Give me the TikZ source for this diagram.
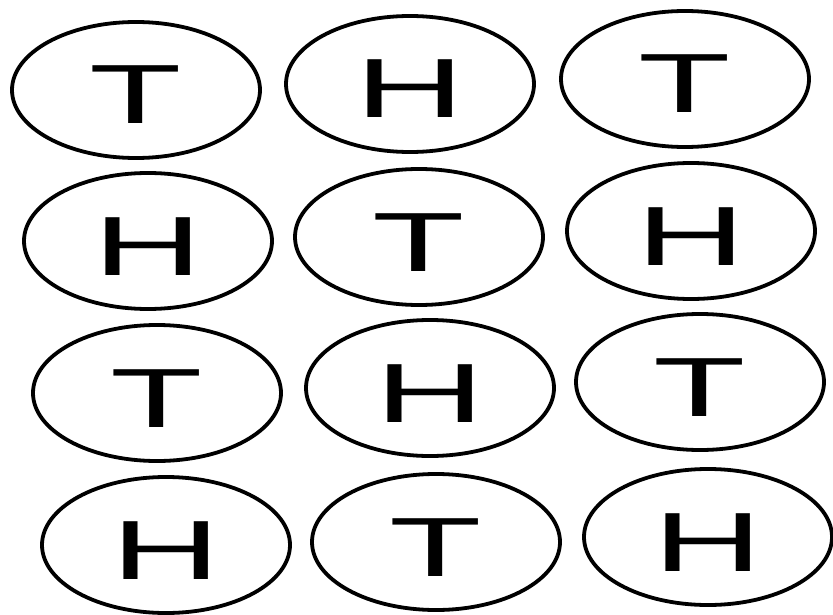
\documentclass[tikz,border=0pt]{standalone}
\usepackage{fontspec}
\usepackage{graphicx}
\setmainfont{Liberation Sans}
\usetikzlibrary{shapes.geometric}
\begin{document}
\begin{tikzpicture}[x=1pt,y=1pt,
  coin/.style={draw=black, line width=3.8pt, ellipse, minimum width=248pt, minimum height=136pt, inner sep=0pt,
    text height=68pt, text depth=0pt, font=\fontsize{84}{84}\selectfont}]
\fill[white] (0,0) rectangle (833,-615);
\useasboundingbox (0,0) rectangle (833,-615);
\newcommand{\cl}[1]{\scalebox{1.8}[1]{#1}}
% row 1
\node[coin] (a1) at (136,-90) {\cl{T}};
\node[coin] (a2) at (410,-84) {\cl{H}};
\node[coin] (a3) at (685,-79) {\cl{T}};
% row 2
\node[coin] (b1) at (148,-241) {\cl{H}};
\node[coin] (b2) at (419,-237) {\cl{T}};
\node[coin] (b3) at (691,-231) {\cl{H}};
% row 3
\node[coin] (c1) at (157,-393) {\cl{T}};
\node[coin] (c2) at (430,-388) {\cl{H}};
\node[coin] (c3) at (700,-382) {\cl{T}};
% row 4
\node[coin] (d1) at (166,-545) {\cl{H}};
\node[coin] (d2) at (436,-542) {\cl{T}};
\node[coin] (d3) at (708,-537) {\cl{H}};
\end{tikzpicture}
\end{document}
